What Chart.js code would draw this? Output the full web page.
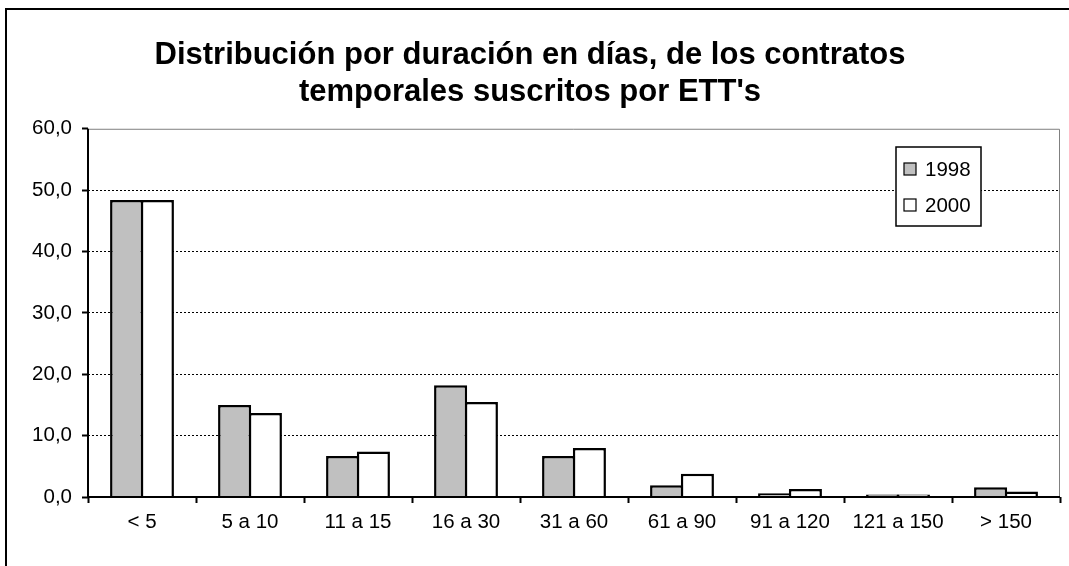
<!DOCTYPE html>
<html>
<head>
<meta charset="utf-8">
<script src="https://cdn.jsdelivr.net/npm/chart.js@4/dist/chart.umd.min.js"></script>
<style>
html,body{margin:0;padding:0;background:#fff;}
#wrap{position:relative;width:1069px;height:566px;}
</style>
</head>
<body>
<div id="wrap"><canvas id="c" width="1069" height="566"></canvas></div>
<script>
const titleLines = ["Distribución por duración en días, de los contratos", "temporales suscritos por ETT's"];
const categories = ["< 5", "5 a 10", "11 a 15", "16 a 30", "31 a 60", "61 a 90", "91 a 120", "121 a 150", "> 150"];
const seriesNames = ["1998", "2000"];
const values1998 = [48.4, 15.0, 6.7, 18.2, 6.7, 1.9, 0.6, 0.4, 1.6];
const values2000 = [48.4, 13.7, 7.4, 15.5, 8.0, 3.8, 1.3, 0.4, 0.9];
const yTicks = [0, 10, 20, 30, 40, 50, 60];

const FONT = "'Liberation Sans', Arial, sans-serif";

const framePlugin = {
  id: 'frame',
  beforeDraw(chart) {
    const ctx = chart.ctx;
    ctx.save();
    ctx.fillStyle = '#fff';
    ctx.fillRect(0, 0, chart.width, chart.height);
    ctx.strokeStyle = '#000';
    ctx.lineWidth = 2;
    ctx.strokeRect(6, 9, 1200, 700);
    ctx.restore();
  },
  afterDatasetsDraw(chart) {
    const ctx = chart.ctx;
    const a = chart.chartArea;
    ctx.save();
    ctx.strokeStyle = '#808080';
    ctx.lineWidth = 1;
    ctx.beginPath();
    ctx.moveTo(a.left, a.top + 0.5);
    ctx.lineTo(a.right - 0.5, a.top + 0.5);
    ctx.lineTo(a.right - 0.5, a.bottom);
    ctx.stroke();
    ctx.strokeStyle = '#000';
    ctx.lineWidth = 2;
    ctx.beginPath();
    ctx.moveTo(a.left, a.top);
    ctx.lineTo(a.left, a.bottom);
    ctx.lineTo(a.right, a.bottom);
    ctx.stroke();
    // legend
    const lx = 896, ly = 147, lw = 85, lh = 79;
    ctx.fillStyle = '#fff';
    ctx.fillRect(lx, ly, lw, lh);
    ctx.strokeStyle = '#000';
    ctx.lineWidth = 1.5;
    ctx.strokeRect(lx, ly, lw, lh);
    ctx.font = '20.5px ' + FONT;
    ctx.textBaseline = 'middle';
    ctx.textAlign = 'left';
    chart.data.datasets.forEach((ds, i) => {
      const cy = ly + 22 + i * 36;
      ctx.fillStyle = ds.backgroundColor;
      ctx.fillRect(lx + 8, cy - 6, 12, 12);
      ctx.lineWidth = 1.2;
      ctx.strokeStyle = '#000';
      ctx.strokeRect(lx + 8, cy - 6, 12, 12);
      ctx.fillStyle = '#000';
      ctx.fillText(ds.label, lx + 29, cy + 1);
    });
    ctx.restore();
  }
};

new Chart(document.getElementById('c'), {
  type: 'bar',
  data: {
    labels: categories,
    datasets: [
      { label: seriesNames[0], data: values1998, backgroundColor: '#C0C0C0', borderColor: '#000', borderWidth: 2.5 },
      { label: seriesNames[1], data: values2000, backgroundColor: '#FFFFFF', borderColor: '#000', borderWidth: 2.5 }
    ]
  },
  options: {
    responsive: false,
    animation: false,
    layout: { padding: { left: 0, right: 9, top: 0, bottom: 0 } },
    datasets: { bar: { categoryPercentage: 0.57, barPercentage: 1.075 } },
    plugins: {
      legend: { display: false },
      tooltip: { enabled: false },
      title: {
        display: true,
        text: titleLines,
        color: '#000',
        font: { family: FONT, size: 31, weight: 'bold', lineHeight: 1.19 },
        padding: { top: 37, bottom: 18 }
      }
    },
    scales: {
      x: {
        grid: { drawOnChartArea: false, drawTicks: true, tickLength: 6, tickColor: '#000', tickWidth: 2, offset: true },
        border: { display: false },
        ticks: { color: '#000', font: { family: FONT, size: 20.5 }, padding: 7, maxRotation: 0, autoSkip: false },
        afterFit(s) { s.height = 69; }
      },
      y: {
        min: 0, max: 60,
        afterBuildTicks(s) { s.ticks = yTicks.map(v => ({ value: v })); },
        grid: {
          color: (c) => (c.tick && (c.tick.value === 0 || c.tick.value === 60)) ? 'rgba(0,0,0,0)' : '#000',
          lineWidth: 1,
          drawTicks: true, tickLength: 6, tickColor: '#000', tickWidth: 2, tickBorderDash: []
        },
        border: { display: false, dash: [2, 2] },
        ticks: {
          color: '#000', font: { family: FONT, size: 20.5 }, padding: 10,
          callback: (v) => Number(v).toFixed(1).replace('.', ',')
        },
        afterFit(s) { s.width = 88; }
      }
    }
  },
  plugins: [framePlugin]
});
</script>
</body>
</html>
